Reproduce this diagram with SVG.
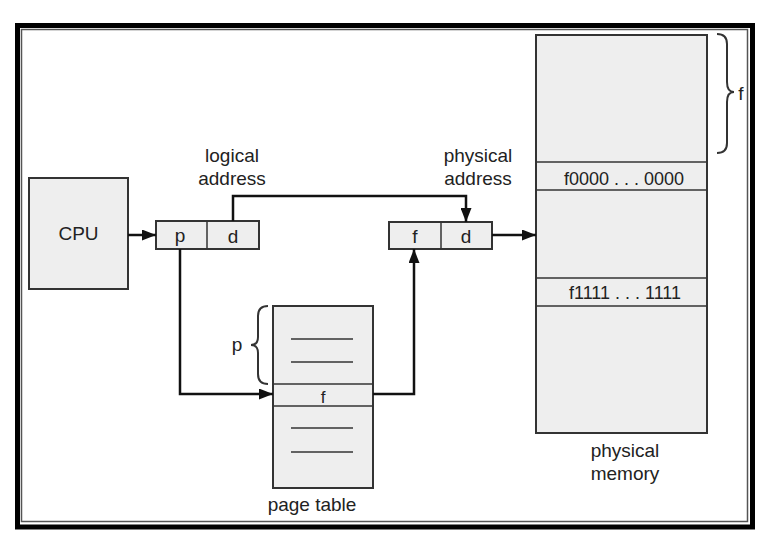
<svg xmlns="http://www.w3.org/2000/svg" width="767" height="542" viewBox="0 0 767 542">
<defs>
<style>
text{font-family:"Liberation Sans",Arial,sans-serif;font-size:19px;fill:#222;text-anchor:middle}
.box{fill:#eeeeee;stroke:#333;stroke-width:2}
.thin{stroke:#333;stroke-width:1.5;fill:none}
.conn{stroke:#111;stroke-width:2.5;fill:none}
.brace{stroke:#333;stroke-width:2;fill:none}
</style>
<marker id="ah" markerWidth="14" markerHeight="11" refX="14" refY="5.5" orient="auto" markerUnits="userSpaceOnUse">
<path d="M0,0 L14,5.5 L0,11 Z" fill="#111"/>
</marker>
</defs>
<rect width="767" height="542" fill="#fff"/>
<rect x="17.5" y="25.5" width="735" height="501.5" fill="none" stroke="#000" stroke-width="5"/>
<rect x="21.5" y="29.5" width="726" height="492" fill="none" stroke="#555" stroke-width="1.5"/>

<g id="cpu">
<rect class="box" x="29" y="178" width="99" height="111"/>
<text x="78.5" y="240">CPU</text>
</g>

<g id="logical-address">
<rect class="box" x="156" y="221" width="103" height="28"/>
<line class="thin" x1="207" y1="221" x2="207" y2="249"/>
<text x="180" y="242">p</text>
<text x="233" y="243">d</text>
<text x="232" y="162">logical</text>
<text x="232" y="185">address</text>
</g>

<g id="physical-address">
<rect class="box" x="389" y="222" width="103" height="27"/>
<line class="thin" x1="441" y1="222" x2="441" y2="249"/>
<text x="415" y="243">f</text>
<text x="466" y="243">d</text>
<text x="478" y="162">physical</text>
<text x="478" y="185">address</text>
</g>

<g id="page-table">
<rect class="box" x="273" y="306" width="100" height="182"/>
<line class="thin" x1="273" y1="384" x2="373" y2="384"/>
<line class="thin" x1="273" y1="406" x2="373" y2="406"/>
<line class="thin" x1="291" y1="339" x2="353" y2="339"/>
<line class="thin" x1="291" y1="362" x2="353" y2="362"/>
<line class="thin" x1="291" y1="428" x2="353" y2="428"/>
<line class="thin" x1="291" y1="452" x2="353" y2="452"/>
<text x="323" y="403" style="font-size:17px">f</text>
<path class="brace" d="M268,306 Q258,306 258,316 L258,337 Q258,345 251,345 Q258,345 258,353 L258,374 Q258,384 268,384"/>
<text x="237" y="351">p</text>
<text x="312" y="511">page table</text>
</g>

<g id="physical-memory">
<rect class="box" x="536" y="35" width="171" height="398"/>
<line class="thin" x1="536" y1="162" x2="707" y2="162"/>
<line class="thin" x1="536" y1="190" x2="707" y2="190"/>
<line class="thin" x1="536" y1="278" x2="707" y2="278"/>
<line class="thin" x1="536" y1="306" x2="707" y2="306"/>
<text x="624" y="185" style="font-size:18px">f0000 . . . 0000</text>
<text x="625" y="299" style="font-size:18px">f1111 . . . 1111</text>
<path class="brace" d="M717,34 Q727,34 727,44 L727,82 Q727,92 734,92 Q727,92 727,102 L727,143 Q727,153 717,153"/>
<text x="741" y="100">f</text>
<text x="625" y="457">physical</text>
<text x="625" y="480">memory</text>
</g>

<g id="connectors">
<path class="conn" d="M128,235 L156,235" marker-end="url(#ah)"/>
<path class="conn" d="M233,221 L233,196 L466,196 L466,222" marker-end="url(#ah)"/>
<path class="conn" d="M180,249 L180,394 L273,394" marker-end="url(#ah)"/>
<path class="conn" d="M373,394 L414,394 L414,249" marker-end="url(#ah)"/>
<path class="conn" d="M492,235 L536,235" marker-end="url(#ah)"/>
</g>
</svg>
